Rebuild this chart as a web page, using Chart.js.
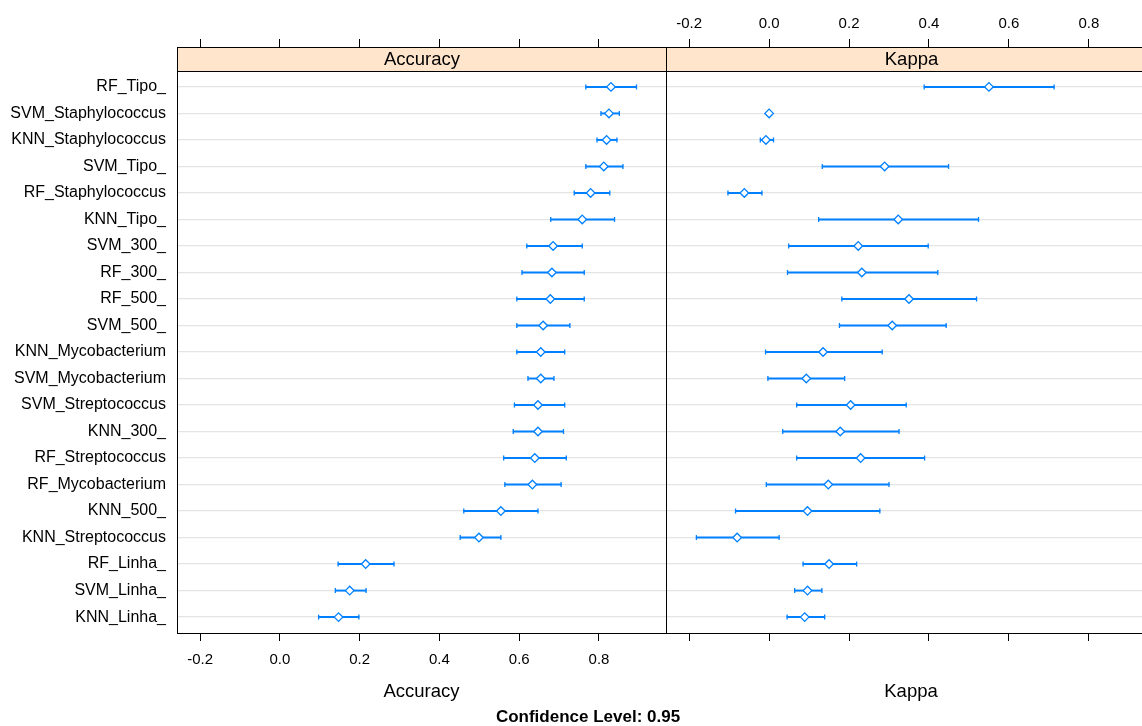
<!DOCTYPE html>
<html>
<head>
<meta charset="utf-8">
<script src="https://cdn.jsdelivr.net/npm/chart.js@4"></script>
<style>
  html, body { margin: 0; padding: 0; background: #fff; overflow: hidden; }
  #wrap { position: relative; width: 1142px; height: 726px; overflow: hidden; }
  canvas { position: absolute; top: 0; }
  #accCanvas { left: 0; }
  #kapCanvas { left: 666px; }
  #conf { position: absolute; left: 0; width: 1176px; top: 706px; text-align: center;
          font: bold 17px "Liberation Sans", Arial, sans-serif; color: #000; line-height: 22px; }
</style>
</head>
<body>
<div id="wrap">
  <canvas id="accCanvas" width="667" height="726"></canvas>
  <canvas id="kapCanvas" width="490" height="726"></canvas>
  <div id="conf">Confidence Level: 0.95</div>
</div>
<script>
// models, top to bottom
var methods = ["RF_Tipo_", "SVM_Staphylococcus", "KNN_Staphylococcus", "SVM_Tipo_", "RF_Staphylococcus",
  "KNN_Tipo_", "SVM_300_", "RF_300_", "RF_500_", "SVM_500_", "KNN_Mycobacterium", "SVM_Mycobacterium",
  "SVM_Streptococcus", "KNN_300_", "RF_Streptococcus", "RF_Mycobacterium", "KNN_500_", "KNN_Streptococcus",
  "RF_Linha_", "SVM_Linha_", "KNN_Linha_"];

var accMean = [0.830, 0.825, 0.819, 0.812, 0.779, 0.758, 0.685, 0.682, 0.678, 0.660, 0.654, 0.654, 0.647, 0.647, 0.639, 0.633, 0.554, 0.499, 0.215, 0.175, 0.147];
var accLow  = [0.767, 0.805, 0.795, 0.767, 0.738, 0.679, 0.619, 0.607, 0.594, 0.594, 0.594, 0.622, 0.588, 0.585, 0.561, 0.564, 0.461, 0.452, 0.146, 0.139, 0.097];
var accHigh = [0.894, 0.851, 0.845, 0.860, 0.827, 0.839, 0.758, 0.763, 0.763, 0.727, 0.714, 0.687, 0.714, 0.711, 0.718, 0.705, 0.647, 0.554, 0.286, 0.216, 0.198];

var kapMean = [0.550, 0.000, -0.008, 0.289, -0.062, 0.323, 0.223, 0.232, 0.350, 0.308, 0.135, 0.093, 0.204, 0.178, 0.229, 0.148, 0.096, -0.080, 0.150, 0.096, 0.089];
var kapLow  = [0.388, -0.002, -0.022, 0.133, -0.103, 0.124, 0.049, 0.046, 0.182, 0.176, -0.009, -0.003, 0.069, 0.034, 0.069, -0.007, -0.084, -0.182, 0.085, 0.064, 0.045];
var kapHigh = [0.713, 0.002, 0.011, 0.449, -0.018, 0.524, 0.398, 0.422, 0.519, 0.443, 0.283, 0.189, 0.343, 0.325, 0.389, 0.300, 0.277, 0.025, 0.219, 0.132, 0.139];

var xTicks = [-0.2, 0.0, 0.2, 0.4, 0.6, 0.8];
var xMin = -0.258, xMax = 0.968;

Chart.defaults.font.family = '"Liberation Sans", Arial, sans-serif';
Chart.defaults.color = "#000";

var blue = "#0080ff";

// strip on top of the panel + black panel frame
var stripPlugin = {
  id: "strip",
  afterDraw: function (chart, args, opts) {
    var ctx = chart.ctx, a = chart.chartArea;
    var top = 47.5, l = Math.round(a.left) + 0.5, r = Math.round(a.right) + 0.5, b = Math.round(a.bottom) + 0.5;
    ctx.save();
    ctx.fillStyle = "#ffe5cc";
    ctx.fillRect(l, top, r - l, a.top - top);
    ctx.strokeStyle = "#000";
    ctx.lineWidth = 1;
    ctx.strokeRect(l, top, r - l, b - top);
    ctx.beginPath();
    ctx.moveTo(l, a.top + 0.5);
    ctx.lineTo(r, a.top + 0.5);
    ctx.stroke();
    ctx.fillStyle = "#000";
    ctx.font = '18.5px "Liberation Sans", Arial, sans-serif';
    ctx.textAlign = "center";
    ctx.textBaseline = "middle";
    ctx.fillText(opts.text, (l + r) / 2, (top + a.top) / 2 + 1);
    ctx.restore();
  }
};

function setTicks(scale) {
  scale.ticks = xTicks.map(function (v) { return { value: v }; });
}

function panel(canvasId, name, mean, low, high, first) {
  var rows = methods.map(function (m, i) { return i + 1; });
  return new Chart(document.getElementById(canvasId), {
    type: "bar",
    data: {
      datasets: [
        {
          type: "scatter",
          data: rows.map(function (r, i) { return { x: mean[i], y: r }; }),
          pointStyle: "rectRot", pointRadius: 4.3, pointBorderWidth: 1.3,
          pointBorderColor: blue, pointBackgroundColor: "#fff", order: 0
        },
        {
          type: "scatter",
          data: rows.map(function (r, i) { return { x: low[i], y: r }; })
            .concat(rows.map(function (r, i) { return { x: high[i], y: r }; })),
          pointStyle: "line", rotation: 90, pointRadius: 2.5, pointBorderWidth: 1.3,
          pointBorderColor: blue, order: 1
        },
        {
          type: "bar",
          data: rows.map(function (r, i) { return { x: [low[i], high[i]], y: r }; }),
          backgroundColor: blue, barThickness: 1.3, borderWidth: 0, order: 2
        }
      ]
    },
    options: {
      indexAxis: "y",
      responsive: false,
      animation: false,
      devicePixelRatio: 1,
      layout: { autoPadding: false, padding: { left: 0, right: first ? 1 : 0, top: 0, bottom: 0 } },
      plugins: { legend: { display: false }, tooltip: { enabled: false }, strip: { text: name } },
      scales: {
        y: {
          type: "linear", reverse: true, min: 0.4, max: 21.6, offset: false,
          afterBuildTicks: function (s) { s.ticks = rows.map(function (r) { return { value: r }; }); },
          afterFit: function (s) { s.width = first ? 177 : 0; },
          ticks: {
            display: first, autoSkip: false, padding: 11, font: { size: 16 },
            callback: function (v) { return methods[v - 1]; }
          },
          grid: { color: "#e4e4e4", lineWidth: 1.2, drawTicks: false, offset: false },
          border: { display: false }
        },
        x: {
          type: "linear", position: "bottom", min: xMin, max: xMax,
          afterBuildTicks: setTicks,
          afterFit: function (s) { s.height = 93; },
          ticks: {
            display: first, padding: 10, font: { size: 15 },
            callback: function (v) { return v.toFixed(1); }
          },
          grid: { drawOnChartArea: false, drawTicks: true, tickLength: 8, color: "#000" },
          border: { display: false },
          title: { display: true, text: name, font: { size: 18.5 }, padding: { top: 0, bottom: 23 } }
        },
        xTop: {
          type: "linear", position: "top", min: xMin, max: xMax,
          afterBuildTicks: setTicks,
          afterFit: function (s) { s.height = 71; },
          ticks: {
            display: !first, padding: 6, font: { size: 15 },
            callback: function (v) { return v.toFixed(1); }
          },
          grid: { drawOnChartArea: false, drawTicks: true, tickLength: 32, color: "#000" },
          border: { display: false }
        }
      }
    },
    plugins: [stripPlugin]
  });
}

panel("accCanvas", "Accuracy", accMean, accLow, accHigh, true);
panel("kapCanvas", "Kappa", kapMean, kapLow, kapHigh, false);
</script>
</body>
</html>
